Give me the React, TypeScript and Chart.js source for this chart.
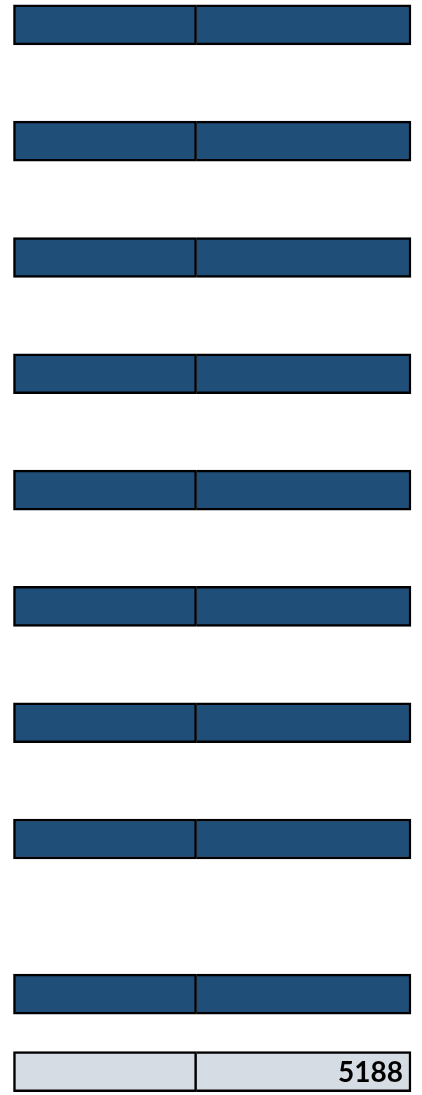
import React, { useEffect, useRef } from "react";
import { Chart, registerables } from "chart.js";

Chart.register(...registerables);

// Data
const categories = ["Row 1", "Row 2", "Row 3", "Row 4", "Row 5", "Row 6", "Row 7", "Row 8", "Row 9", "Total"];
const leftValues = [2390, 2390, 2390, 2390, 2390, 2390, 2390, 2390, 2390, 2390];
const rightValues = [2798, 2798, 2798, 2798, 2798, 2798, 2798, 2798, 2798, 2798];
const valueLabels = ["", "", "", "", "", "", "", "", "", "5188"];

// Layout (row slots on the vertical axis)
const rowSlots = [0, 3, 6, 9, 12, 15, 18, 21, 25, 27];

const DARK = "#1F4E79";
const LIGHT = "#D6DCE4";
const BORDER = "#000000";

const labelPlugin = {
  id: "segLabels",
  afterDatasetsDraw(chart: any) {
    const meta = chart.getDatasetMeta(1);
    const ctx = chart.ctx;
    ctx.save();
    ctx.font = "bold 28px Lato, 'Open Sans', sans-serif";
    ctx.fillStyle = "#000";
    ctx.textAlign = "right";
    ctx.textBaseline = "middle";
    meta.data.forEach((bar: any, i: number) => {
      const t = valueLabels[i];
      if (!t) return;
      const { x, y } = bar.getProps(["x", "y"], true);
      ctx.fillText(t, x - 8, y + 1);
    });
    ctx.restore();
  },
};

export default function App() {
  const ref = useRef<HTMLCanvasElement | null>(null);
  useEffect(() => {
    if (!ref.current) return;
    const fills = categories.map((_, i) => (i === categories.length - 1 ? LIGHT : DARK));
    const chart = new Chart(ref.current, {
      type: "bar",
      data: {
        datasets: [
          {
            label: "Left",
            data: categories.map((_, i) => ({ x: [0, leftValues[i]], y: rowSlots[i] })) as any,
            backgroundColor: fills,
            borderColor: BORDER,
            borderWidth: 2.5,
            borderSkipped: false,
            barThickness: 40,
            grouped: false,
          } as any,
          {
            label: "Right",
            data: categories.map((_, i) => ({
              x: [leftValues[i], leftValues[i] + rightValues[i]],
              y: rowSlots[i],
            })) as any,
            backgroundColor: fills,
            borderColor: BORDER,
            borderWidth: { top: 2.5, right: 2.5, bottom: 2.5, left: 0 },
            borderSkipped: false,
            barThickness: 40,
            grouped: false,
          } as any,
        ],
      },
      options: {
        indexAxis: "y",
        animation: false,
        responsive: false,
        devicePixelRatio: 1,
        layout: { padding: 0 },
        plugins: { legend: { display: false }, tooltip: { enabled: false } },
        scales: {
          x: { type: "linear", min: -176, max: 5332, display: false, offset: false },
          y: { type: "linear", reverse: true, min: -0.641, max: 27.602, display: false, offset: false },
        },
      } as any,
      plugins: [labelPlugin],
    });
    return () => chart.destroy();
  }, []);
  return (
    <div style={{ position: "absolute", left: 0, top: 0, width: 422, height: 1095, background: "#fff" }}>
      <canvas ref={ref} width={422} height={1095} style={{ display: "block", width: 422, height: 1095 }} />
    </div>
  );
}
